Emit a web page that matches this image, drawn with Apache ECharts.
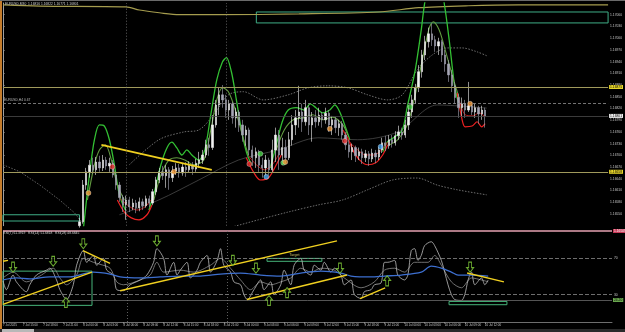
<!DOCTYPE html>
<html><head><meta charset="utf-8">
<script src="https://cdn.jsdelivr.net/npm/echarts@6/dist/echarts.min.js"></script>
<style>html,body{margin:0;padding:0;background:#000;}#c{width:625px;height:332px;}</style>
</head><body><div id="c"></div>
<script>
// ---------- time axis ----------
const tickLabels = ["7 Jul 2025","7 Jul 15:00","7 Jul 18:00","7 Jul 21:00","8 Jul 00:00","8 Jul 03:00","8 Jul 06:00","8 Jul 09:00","8 Jul 12:00","8 Jul 15:00","8 Jul 18:00","8 Jul 21:00","9 Jul 00:00","9 Jul 03:00","9 Jul 06:00","9 Jul 09:00","9 Jul 12:00","9 Jul 15:00","9 Jul 18:00","9 Jul 21:00","10 Jul 00:00","10 Jul 03:00","10 Jul 06:00","10 Jul 09:00","10 Jul 12:00"];
const slotCount = 183;
const categories = Array.from({length: slotCount}, (_, i) => {
  const m = 12 * 60 + i * 30, d = 7 + Math.floor(m / 1440), hh = Math.floor((m % 1440) / 60), mm = m % 60;
  return '2025.07.' + String(d).padStart(2, '0') + ' ' + String(hh).padStart(2, '0') + ':' + String(mm).padStart(2, '0');
});
const firstSlot = 23;
// ---------- candles (points above 1.00000, 1 point = 0.00001) ----------
const opens  = [16520,16530,16624,16658,16675,16663,16683,16668,16688,16673,16680,16650,16624,16592,16573,16586,16568,16578,16566,16581,16571,16589,16578,16607,16637,16658,16648,16663,16643,16660,16668,16655,16670,16663,16675,16665,16680,16688,16701,16727,16720,16778,16829,16855,16842,16816,16832,16796,16811,16778,16752,16765,16714,16694,16709,16675,16668,16688,16663,16714,16752,16701,16720,16694,16740,16778,16796,16811,16786,16822,16778,16796,16786,16803,16791,16808,16778,16791,16771,16781,16752,16727,16709,16720,16699,16709,16694,16704,16691,16706,16696,16714,16732,16725,16740,16732,16750,16760,16752,16778,16811,16842,16873,16914,16957,16991,17011,16996,16980,16991,16957,16934,16906,16878,16848,16822,16832,16816,16827,16811,16822,16806,16816];
const closes = [16530,16624,16658,16675,16663,16683,16668,16688,16673,16680,16650,16624,16592,16573,16586,16568,16578,16566,16581,16571,16589,16578,16607,16637,16658,16648,16663,16643,16660,16668,16655,16670,16663,16675,16665,16680,16688,16701,16727,16720,16778,16829,16855,16842,16816,16832,16796,16811,16778,16752,16765,16714,16694,16709,16675,16668,16688,16663,16714,16752,16701,16720,16694,16740,16778,16796,16811,16786,16822,16778,16796,16786,16803,16791,16808,16778,16791,16771,16781,16752,16727,16709,16720,16699,16709,16694,16704,16691,16706,16696,16714,16732,16725,16740,16732,16750,16760,16752,16778,16811,16842,16873,16914,16957,16991,17011,16996,16980,16991,16957,16934,16906,16878,16848,16822,16832,16816,16827,16811,16822,16806,16816,16801];
const lows   = [16515,16525,16612,16643,16653,16650,16658,16660,16663,16658,16643,16612,16581,16555,16535,16555,16560,16552,16557,16560,16566,16568,16573,16599,16629,16637,16617,16612,16632,16650,16643,16648,16645,16655,16650,16658,16668,16678,16694,16699,16714,16771,16803,16822,16796,16791,16781,16771,16760,16735,16725,16699,16673,16668,16658,16643,16648,16650,16658,16683,16663,16675,16680,16688,16725,16752,16771,16760,16776,16752,16735,16771,16776,16771,16781,16760,16752,16757,16750,16740,16714,16694,16688,16683,16688,16678,16683,16673,16683,16680,16688,16706,16711,16717,16720,16725,16740,16740,16745,16765,16796,16832,16862,16899,16944,16976,16980,16965,16957,16939,16914,16888,16862,16832,16796,16801,16796,16811,16803,16796,16781,16791,16771];
const highs  = [16540,16637,16668,16688,16694,16696,16699,16701,16696,16694,16688,16658,16632,16599,16597,16594,16589,16586,16592,16589,16597,16597,16614,16645,16668,16673,16675,16670,16673,16680,16678,16680,16683,16685,16683,16691,16709,16714,16740,16745,16803,16842,16873,16880,16855,16842,16837,16822,16816,16791,16776,16771,16725,16720,16714,16694,16701,16694,16740,16771,16765,16745,16740,16760,16803,16816,16878,16832,16842,16829,16811,16816,16822,16811,16822,16816,16801,16798,16791,16788,16760,16740,16730,16725,16720,16717,16714,16711,16717,16714,16722,16745,16750,16752,16752,16762,16776,16771,16791,16827,16855,16883,16931,16970,17006,17027,17037,17006,17001,16996,16970,16944,16919,16888,16858,16848,16842,16888,16837,16832,16827,16827,16822];
// ---------- main overlays: [slot, points] ----------
const topMA = [[0,17085],[11,17082],[37,17080],[41,17072],[47,17065],[53,17060],[65,17060],[89,17062],[113,17067],[125,17078],[140,17083],[155,17085],[182,17085]];
const greenA = [
  [[24.2,16514],[26,16650],[27.5,16740],[29,16778],[30.5,16775],[32,16740],[33.5,16676],[35,16599],[36.8,16560]],
  [[43.9,16560],[45.7,16612],[47.5,16676],[49.3,16719],[50.8,16734],[52.3,16719],[53.8,16701],[55.3,16714],[56.8,16701],[58.9,16688],[60.7,16714],[62.5,16804],[64.3,16893],[66,16939],[67.2,16950],[68.7,16914],[70.2,16842],[71.7,16765],[73.2,16709],[74.7,16676]],
  [[80.4,16668],[82.2,16727],[84,16786],[85.8,16816],[88.2,16822],[90.6,16816],[92.4,16832],[94.1,16822],[96.2,16809],[98.3,16816],[99.8,16829],[101.3,16811],[103.1,16770],[104.3,16740]],
  [[114.2,16709],[115.7,16735],[117.8,16747],[120.1,16765],[121.6,16824],[124,16919],[125.8,17021],[127,17098],[129,17160],[131,17160],[132.7,17090],[134.2,16996],[135.7,16886],[136.6,16847],[137.5,16820]]
];
const greenB = [
  [[25.4,16586],[27.5,16676],[29,16714],[30.8,16727],[32.6,16688],[34.4,16624],[36.5,16586]],
  [[45.4,16586],[47.5,16650],[49.9,16688],[52.3,16694],[54.7,16688],[57.4,16676],[60.4,16688],[62.5,16765],[64.3,16842],[66,16873],[67.8,16863],[69.9,16816],[72,16752],[73.8,16701]],
  [[82.2,16714],[84.6,16765],[87.3,16791],[90.3,16796],[93.2,16804],[96.2,16791],[99.2,16798],[102.2,16778],[103.7,16752]],
  [[116.3,16727],[118.7,16740],[121.6,16778],[124,16855],[126.1,16944],[128.2,17026],[129.4,17042],[131.2,17021],[133,16970],[135.1,16906],[137.2,16847]]
];
const redA = [
  [[34.4,16586],[36.5,16555],[38.6,16540],[40.9,16535],[43.3,16548],[44.8,16573]],
  [[73.2,16694],[75.3,16658],[77.4,16637],[79.8,16642],[82.2,16676],[83.7,16701]],
  [[102.2,16765],[103.7,16745],[105.2,16714],[107.3,16688],[109.7,16676],[112.1,16681],[114.2,16701],[115.7,16727]],
  [[136.6,16860],[138.1,16791],[139,16773],[141.1,16775],[142.6,16786],[144,16773],[145,16781]]
];
const redB = [
  [[35,16591],[37.4,16573],[40.3,16560],[42.7,16568],[44.5,16586]],
  [[73.8,16699],[76.2,16676],[78.6,16663],[81,16676],[82.8,16701]],
  [[102.2,16765],[104.3,16734],[106.7,16714],[109.1,16701],[111.5,16701],[113.9,16714],[115.7,16734]],
  [[137.2,16842],[139,16804],[141.4,16801],[143.2,16809],[145,16798]]
];
const bbUpper = [[38,16676],[46.9,16740],[54.4,16760],[58.9,16765],[63.4,16804],[67.8,16855],[72.3,16863],[78.3,16842],[85.8,16855],[91.8,16873],[97.7,16878],[103.7,16873],[109.7,16855],[115.7,16842],[120.1,16855],[124.6,16919],[129.1,16957],[133.6,16975],[138.1,16975],[142.6,16965],[145.5,16955]];
const bbLower = [[67.8,16514],[76.8,16535],[85.8,16555],[94.7,16573],[102.2,16586],[109.7,16612],[117.2,16637],[124.6,16642],[130.6,16624],[136.6,16612],[145.5,16599]];
const leftDotted = [[0,16676],[5.1,16658],[11.1,16624],[17,16586],[21.5,16553],[23.6,16530]];
const midMA = [[35,16548],[46.9,16586],[58.9,16637],[70.8,16688],[82.8,16714],[94.7,16745],[106.7,16740],[118.7,16760],[130.6,16829],[145.5,16821]];
const trendMain = [[29.6,16727],[62.8,16663]];
const levelsYellow = [16875, 16658];
const bidLevel = 16801;
const dashLevel = 16834;
const boxTop = [[76.2,17067],[182,17039]];
const boxLeft = [[0,16548],[23,16532]];
const separators = [37, 67];
const tags = [[29.3,16635,'Sell 0.6p','s'],[61.9,16671,'Sell 0.4p','s'],[75.3,16696,'Sell 2p','s'],[93.5,16711,'Sell 1.1p','s'],[79.8,16665,'Buy 1.2p 1.4','b'],[100.1,16752,'Buy 0.9p','b'],[118.7,16773,'Buy 2.1p','b'],[142.9,16822,'Sell 1.3p','b']];
const dots = [[25.7,16604,'o'],[32.9,16671,'r'],[51.4,16658,'o'],[74.1,16678,'r'],[77.4,16704,'g'],[79.2,16645,'b'],[84.3,16681,'g'],[84.9,16683,'o'],[98.3,16768,'o'],[102.8,16737,'r'],[113.6,16722,'b'],[122.5,16824,'g'],[140.5,16832,'o']];
// ---------- sub panel: [slot, value] ----------
const rsi7 = [[0,45.2],[1,35.5],[3,51.6],[4,44.1],[7,33.3],[8,40.9],[10,51.6],[13,57],[14,59.1],[16,46.2],[17,35.5],[19,24.7],[21,40.9],[22,62.4],[24,78.5],[25,65.6],[27,73.1],[28,62.4],[30,69.9],[31,57],[33,51.6],[34,35.5],[36,34.4],[38,40.9],[41,46.2],[43,51.6],[45,65.6],[46,80.6],[48,69.9],[49,51.6],[51,65.6],[52,51.6],[53,57],[55,65.6],[56,48.4],[58,57],[59,65.6],[61,73.1],[62,54.8],[64,67.7],[65,80.6],[66,62.4],[68,55],[69,44.1],[71,40.9],[72,30.1],[73,24.7],[75,35.5],[77,46.2],[78,35.5],[80,44.1],[81,30.1],[83,40.9],[84,57],[86,40.9],[87,62.4],[89,69.9],[90,57],[92,51.6],[93,62.4],[95,57],[96,65.6],[98,54.8],[99,59.1],[101,51.6],[102,40.9],[104,46.2],[105,30.1],[107,25.8],[108,33.3],[110,35.5],[111,40.9],[113,43],[114,65.6],[115,65.6],[117,67.7],[118,51.6],[120,46.2],[121,51.6],[122,78.5],[123,80.6],[124,67.7],[125,73.1],[126,83.9],[128,88.2],[129,83.9],[131,67.7],[132,54.8],[133,40.9],[134,30.1],[135,24.7],[137,23.7],[138,30.1],[139,46.2],[140,54.8],[141,40.9],[143,48.4],[144,40.9],[145,46.2]];
const rsi14 = [[0,48.4],[3,54.8],[7,44.1],[11,50.5],[15,59.1],[17,48.4],[19,40.9],[22,51.6],[24,69.9],[27,65.6],[29,63.4],[32,59.1],[34,44.1],[36,40.9],[41,46.2],[44,51.6],[46,65.6],[48,54.8],[53,57],[57,54.8],[62,62.4],[65,69.9],[68,59.1],[71,46.2],[74,35.5],[77,44.1],[80,40.9],[83,44.1],[86,48.4],[89,59.1],[92,54.8],[95,59.1],[99,57],[102,48.4],[107,37.6],[111,44.1],[114,57],[117,59.1],[120,54.8],[123,65.6],[127,65.6],[129,73.1],[131,62.4],[134,44.1],[137,37.6],[140,48.4],[143,46.2],[145,44.1]];
const rsi28 = [[0,46.2],[4,48.4],[8,47.3],[14,49.5],[20,49.5],[25,53.8],[27,54.8],[32,52.7],[35,49.5],[41,48.4],[47,49.5],[53,50.5],[59,50.5],[65,52.7],[71,53.8],[77,51.6],[83,50.5],[89,53.8],[95,55.9],[101,53.8],[104,50.5],[110,49.5],[114,50.5],[119,51.6],[125,54.8],[128,61.3],[131,59.1],[134,54.8],[136,51.6],[140,51.6],[145,50.5]];
const subTrends = [[[0,19.4],[26.6,54.8]],[[23.9,78.5],[32,64.5]],[[35,34.4],[99.8,89.2]],[[72.9,24.7],[102.8,51.6]],[[106.7,25.8],[114.2,37.6]],[[138.7,53.8],[149.7,44.1]],[[0,66.7],[1.5,67.7]]];
const subBoxes = [[[0,55.9],[26.6,18.3],''],[[78.9,69.9],[95.3,66.7],'Target'],[[133.3,22.6],[150.6,19],'']];
const downArrows = [[3,60.2],[15,66.7],[24,86],[46,89.2],[68.7,67.7],[75.6,59.1],[100.7,59.1],[139.6,60.2]];
const upArrows = [[18.8,21.5],[79.5,23.7],[84.9,32.3],[114.8,45.2]];
const subLevels = [70, 30];
const subLine = 24.2;

// ---------- build ----------
const P = v => (100000 + v) / 1e5;
const toPrice = arr => arr.map(p => [p[0], P(p[1])]);
const FONT = 'Liberation Sans';
const candleData = categories.map((_, i) => {
  const k = i - firstSlot;
  if (k < 0 || k >= closes.length) return '-';
  return [P(opens[k]), P(closes[k]), P(lows[k]), P(highs[k])];
});
const series = [];
function addLine(data, color, width, type, xi, yi, z, smooth) {
  series.push({type: 'line', xAxisIndex: xi, yAxisIndex: yi, data, symbol: 'none', silent: true, z: z || 2, smooth: smooth || false,
    lineStyle: {color, width, type: type || 'solid'}, animation: false});
}
addLine(toPrice(topMA), '#a59c4e', 1.2, 'solid', 1, 0, 2, 0.3);
addLine(toPrice(leftDotted), '#7a7a7a', 0.8, [1.5, 1.5], 1, 0);
addLine(toPrice(bbUpper), '#8a8a8a', 0.8, [1.5, 1.5], 1, 0, 2, 0.3);
addLine(toPrice(bbLower), '#8a8a8a', 0.8, [1.5, 1.5], 1, 0, 2, 0.3);
addLine(toPrice(midMA), '#4a4a4a', 0.8, 'solid', 1, 0, 2, 0.3);
greenA.forEach(s => addLine(toPrice(s), '#33c033', 1.3, 'solid', 1, 0, 2, 0.3));
greenB.forEach(s => addLine(toPrice(s), '#629a40', 1.1, 'solid', 1, 0, 2, 0.3));
redA.forEach(s => addLine(toPrice(s), '#ee2222', 1.2, 'solid', 1, 0, 2, 0.3));
redB.forEach(s => addLine(toPrice(s), '#b81a1a', 1, 'solid', 1, 0, 2, 0.3));
addLine(toPrice(trendMain), '#f0d020', 1.7, 'solid', 1, 0, 4);

// horizontal levels + rectangles on main
const tinyLbl = (txt, bg, fg) => ({show: true, position: 'end', formatter: txt, fontSize: 3.3, fontFamily: FONT, color: fg, backgroundColor: bg, padding: [0.5, 1], distance: 1});
series.push({type: 'line', xAxisIndex: 1, yAxisIndex: 0, data: [], symbol: 'none', silent: true, z: 1, animation: false,
  markLine: {symbol: ['none', 'none'], silent: true, animation: false, precision: 5, data: [
    {yAxis: P(levelsYellow[0]), lineStyle: {color: '#a09a5c', width: 1.2, type: 'solid'}, label: tinyLbl(P(levelsYellow[0]).toFixed(5), '#e6d42a', '#000')},
    {yAxis: P(levelsYellow[1]), lineStyle: {color: '#a09a5c', width: 1.2, type: 'solid'}, label: tinyLbl(P(levelsYellow[1]).toFixed(5), '#e6d42a', '#000')},
    {yAxis: P(bidLevel), lineStyle: {color: '#4a4a4a', width: 0.8, type: 'solid'}, label: tinyLbl(P(bidLevel).toFixed(5), '#f0f0f0', '#000')},
    {yAxis: P(dashLevel), lineStyle: {color: '#909090', width: 0.8, type: [3, 2]}, label: {show: true, position: 'insideStartTop', formatter: 'EURUSD,H4 0.67', fontSize: 3.3, fontFamily: FONT, color: '#bbb', distance: 1}},
    {xAxis: separators[0], lineStyle: {color: '#777', width: 0.8, type: [1, 2]}, label: {show: false}},
    {xAxis: separators[1], lineStyle: {color: '#777', width: 0.8, type: [1, 2]}, label: {show: false}}
  ]},
  markArea: {silent: true, animation: false, itemStyle: {color: 'rgba(0,0,0,0)', borderColor: '#3fae86', borderWidth: 1}, data: [
    [{xAxis: boxTop[0][0], yAxis: P(boxTop[0][1])}, {xAxis: boxTop[1][0], yAxis: P(boxTop[1][1])}],
    [{xAxis: boxLeft[0][0], yAxis: P(boxLeft[0][1])}, {xAxis: boxLeft[1][0], yAxis: P(boxLeft[1][1])}]
  ]}
});

series.push({type: 'candlestick', xAxisIndex: 0, yAxisIndex: 0, data: candleData, barWidth: 1.8, z: 3, silent: true, animation: false,
  itemStyle: {color: '#f2f2f2', color0: '#a6a6b6', borderColor: '#f2f2f2', borderColor0: '#a6a6b6', borderWidth: 0.6}});

const dotColor = {o: '#f39a3a', r: '#e42a2a', g: '#40d040', b: '#4aa8f0'};
series.push({type: 'scatter', xAxisIndex: 1, yAxisIndex: 0, z: 6, silent: true, animation: false, symbolSize: 5,
  data: dots.map(d => ({value: [d[0], P(d[1])], itemStyle: {color: dotColor[d[2]], borderColor: 'rgba(255,255,255,0.55)', borderWidth: 0.7}}))});
series.push({type: 'scatter', xAxisIndex: 1, yAxisIndex: 0, z: 7, silent: true, animation: false, symbolSize: 0.1,
  itemStyle: {opacity: 0},
  data: tags.map(t => ({value: [t[0], P(t[1])], label: {show: true, position: 'inside', formatter: t[2], fontSize: 3.6, fontFamily: FONT,
    color: t[3] === 's' ? '#5a1a2a' : '#1a4a2a', backgroundColor: t[3] === 's' ? '#f2b8c6' : '#a6dcb0', padding: [0.8, 1.2]}}))});

// ---------- sub panel ----------
addLine(rsi14, '#8c8c8c', 0.8, 'solid', 3, 1, 2, 0.3);
addLine(rsi7, '#bdbdbd', 0.8, 'solid', 3, 1, 3, 0.3);
addLine(rsi28, '#3d6fd0', 1.3, 'solid', 3, 1, 4, 0.3);
subTrends.forEach(t => addLine(t, '#f0d020', 1.4, 'solid', 3, 1, 5));
series.push({type: 'line', xAxisIndex: 3, yAxisIndex: 1, data: [], symbol: 'none', silent: true, z: 1, animation: false,
  markLine: {symbol: ['none', 'none'], silent: true, animation: false, precision: 3, data: [
    {yAxis: subLevels[0], lineStyle: {color: '#8a8a8a', width: 0.8, type: [4, 2]}, label: tinyLbl('70', 'rgba(0,0,0,0)', '#ccc')},
    {yAxis: subLevels[1], lineStyle: {color: '#8a8a8a', width: 0.8, type: [4, 2]}, label: tinyLbl('30', 'rgba(0,0,0,0)', '#ccc')},
    {yAxis: subLine, lineStyle: {color: '#6a6a6a', width: 0.8, type: 'solid'}, label: tinyLbl(subLine.toFixed(2), '#6aa84f', '#000')},
    {yAxis: 100, lineStyle: {color: '#e6a2b2', width: 1.5, type: 'solid'}, label: tinyLbl('1.16509', '#c83a58', '#fff')},
    {xAxis: separators[0], lineStyle: {color: '#777', width: 0.8, type: [1, 2]}, label: {show: false}},
    {xAxis: separators[1], lineStyle: {color: '#777', width: 0.8, type: [1, 2]}, label: {show: false}}
  ]},
  markArea: {silent: true, animation: false, itemStyle: {color: 'rgba(0,0,0,0)', borderColor: '#46b57a', borderWidth: 1},
    label: {show: true, position: 'top', color: '#cfc46a', fontSize: 3.6, fontFamily: FONT, distance: 1},
    data: subBoxes.map(b => [{xAxis: b[0][0], yAxis: b[0][1], name: b[2]}, {xAxis: b[1][0], yAxis: b[1][1]}])}
});
const downPath = 'path://M3,0 L7,0 L7,6 L10,6 L5,11 L0,6 L3,6 Z';
const upPath = 'path://M3,11 L7,11 L7,5 L10,5 L5,0 L0,5 L3,5 Z';
[[downArrows, downPath], [upArrows, upPath]].forEach(([arr, path]) => series.push({type: 'scatter', xAxisIndex: 3, yAxisIndex: 1, z: 8, silent: true, animation: false,
  symbol: path, symbolSize: [7, 10], data: arr, itemStyle: {color: '#000', borderColor: '#86d43c', borderWidth: 1}}));

const hiddenVal = gi => ({type: 'value', gridIndex: gi, min: 0, max: slotCount - 1, show: false});
const option = {
  backgroundColor: '#000',
  animation: false,
  title: [
    {text: 'EURUSD,M30  1.16816 1.16822 1.16771 1.16801', left: 5, top: 3, padding: 0, textStyle: {color: '#d0d0d0', fontSize: 3.3, fontWeight: 'normal', fontFamily: FONT}},
    {text: 'RSI(7) 61.3919   RSI(14) 51.6818   RSI(28) 48.6845', left: 3, top: 232, padding: 0, textStyle: {color: '#d0d0d0', fontSize: 3.3, fontWeight: 'normal', fontFamily: FONT}}
  ],
  grid: [
    {left: 3, right: 13, top: 3, height: 222.7},
    {left: 3, right: 13, top: 231, height: 91}
  ],
  xAxis: [
    {type: 'category', gridIndex: 0, data: categories, boundaryGap: false, axisLine: {show: false}, axisTick: {show: false}, axisLabel: {show: false}, splitLine: {show: false}},
    hiddenVal(0),
    {type: 'category', gridIndex: 1, data: categories, boundaryGap: false,
      axisLine: {show: true, lineStyle: {color: '#8a8a8a', width: 0.8}},
      axisTick: {show: true, length: 1.5, lineStyle: {color: '#8a8a8a'}, interval: i => i % 6 === 0 && i <= 144},
      axisLabel: {show: true, interval: i => i % 6 === 0 && i <= 144, formatter: (v, i) => tickLabels[i / 6] || '', align: 'left', fontSize: 3, color: '#c8c8c8', margin: 1.5, fontFamily: FONT},
      splitLine: {show: false}},
    hiddenVal(1)
  ],
  yAxis: [
    {type: 'value', gridIndex: 0, position: 'right', min: 1.1652, max: 1.1709, interval: 0.0003,
      axisLine: {show: true, lineStyle: {color: '#a0a0a0', width: 1}}, axisTick: {show: true, length: 1.5, lineStyle: {color: '#a0a0a0'}},
      axisLabel: {show: true, showMinLabel: false, showMaxLabel: false, formatter: v => v.toFixed(5), fontSize: 3.3, color: '#c8c8c8', margin: 2, fontFamily: FONT},
      splitLine: {show: false}},
    {type: 'value', gridIndex: 1, position: 'right', min: 0, max: 100,
      axisLine: {show: true, lineStyle: {color: '#a0a0a0', width: 1}}, axisTick: {show: false}, axisLabel: {show: false}, splitLine: {show: false}}
  ],
  graphic: [
    {type: 'rect', left: 0, top: 0, shape: {width: 2, height: 332}, style: {fill: '#c47c2c'}, silent: true},
    {type: 'rect', left: 0, top: 0, shape: {width: 625, height: 1}, style: {fill: '#6a6a6a'}, silent: true},
    {type: 'rect', left: 0, top: 329, shape: {width: 625, height: 3}, style: {fill: '#2a2a2a'}, silent: true},
    {type: 'rect', left: 2, top: 329, shape: {width: 32, height: 3}, style: {fill: '#b8b8b8'}, silent: true}
  ],
  series
};
const chart = echarts.init(document.getElementById('c'), null, {renderer: 'canvas'});
chart.setOption(option);
</script>
</body></html>
